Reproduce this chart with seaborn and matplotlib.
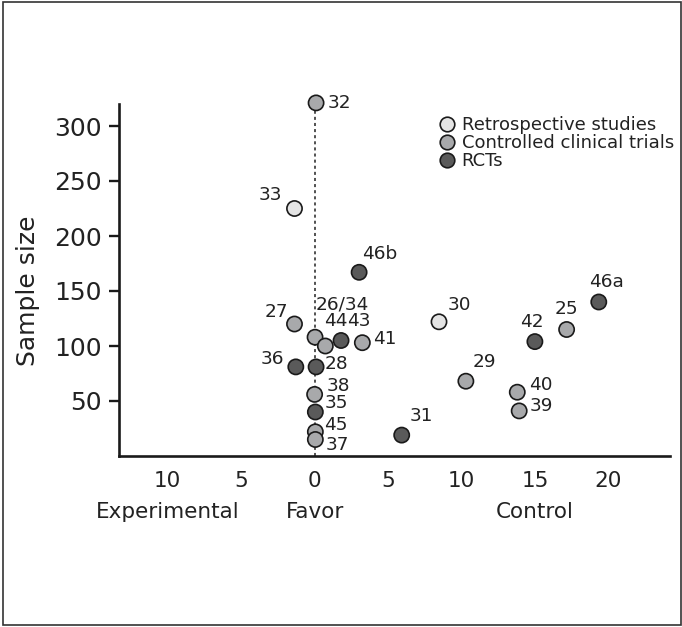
import matplotlib
matplotlib.use("Agg")
import matplotlib.pyplot as plt
from matplotlib.lines import Line2D
from matplotlib.patches import Rectangle
import seaborn as sns
import pandas as pd

# ---- data ----
studies = ["32", "33", "46b", "27", "26/34", "44", "43", "41", "36", "28", "38",
           "35", "45", "37", "31", "30", "46a", "25", "42", "29", "40", "39"]
effect = [0.1, -1.37, 3.03, -1.37, 0.03, 0.73, 1.8, 3.25, -1.28, 0.1, 0.0,
          0.05, 0.05, 0.05, 5.93, 8.47, 19.35, 17.16, 15.0, 10.3, 13.8, 13.93]
sample_size = [321, 225, 167, 120, 108, 100, 105, 103, 81, 81, 56,
               40, 22, 15, 19, 122, 140, 115, 104, 68, 58, 41]
design = ["Controlled clinical trials", "Retrospective studies", "RCTs",
          "Controlled clinical trials", "Controlled clinical trials",
          "Controlled clinical trials", "RCTs", "Controlled clinical trials",
          "RCTs", "RCTs", "Controlled clinical trials", "RCTs",
          "Controlled clinical trials", "Controlled clinical trials", "RCTs",
          "Retrospective studies", "RCTs", "Controlled clinical trials", "RCTs",
          "Controlled clinical trials", "Controlled clinical trials",
          "Controlled clinical trials"]
design_order = ["Retrospective studies", "Controlled clinical trials", "RCTs"]
x_ticks = [-10, -5, 0, 5, 10, 15, 20]
x_tick_labels = ["10", "5", "0", "5", "10", "15", "20"]
y_ticks = [50, 100, 150, 200, 250, 300]
side_labels = ["Experimental", "Favor", "Control"]
side_label_x = [-10, 0, 15]

df = pd.DataFrame({"study": studies, "effect": effect,
                   "n": sample_size, "design": design})

# ---- styling / layout ----
palette = {"Retrospective studies": "#e4e4e4",
           "Controlled clinical trials": "#a8a9ab",
           "RCTs": "#5a5a5a"}
# label offsets in pixels (dx, dy, ha)
label_offsets = {
    "32": (12, 0, "left"), "33": (-12, 14, "right"), "46b": (3, 18, "left"),
    "27": (-6, 12, "right"), "26/34": (1, 33, "left"), "44": (-1, 25, "left"),
    "43": (6, 20, "left"), "41": (11, 4, "left"), "36": (-12, 8, "right"),
    "28": (9, 3, "left"), "38": (12, 8, "left"), "35": (9, 9, "left"),
    "45": (9, 7, "left"), "37": (10, -5, "left"), "31": (8, 19, "left"),
    "30": (9, 17, "left"), "46a": (7.5, 20, "center"), "25": (0, 20, "center"),
    "42": (-3.5, 20, "center"), "29": (7, 19, "left"), "40": (12, 7, "left"),
    "39": (10, 5, "left"),
}

sns.set_style("white")
plt.rcParams["font.family"] = ["DejaVu Sans"]
txt = "#222222"

W, H = 682, 627
fig = plt.figure(figsize=(W / 100, H / 100), dpi=100)
ax = fig.add_axes([119.3 / W, (H - 456) / H, (670 - 119.3) / W, (456 - 104) / H])

# dotted reference line at 0
ax.vlines(0, 0, df.loc[df.study == "32", "n"].iloc[0], colors="#222222",
          linestyles=(0, (2, 2)), linewidth=1.1, zorder=1)

sns.scatterplot(data=df, x="effect", y="n", hue="design", hue_order=design_order,
                palette=palette, s=120, edgecolor="#1a1a1a", linewidth=1.2,
                legend=False, ax=ax, zorder=3, clip_on=False)

for s, xv, yv in zip(studies, effect, sample_size):
    dx, dy, ha = label_offsets[s]
    ax.annotate(s, (xv, yv), xytext=(dx, dy), textcoords="offset pixels",
                ha=ha, va="center", fontsize=13.3, color=txt, zorder=4,
                annotation_clip=False)

ax.set_xlim(-13.3, 24.2)
ax.set_ylim(0, 320)
ax.set_xticks(x_ticks)
ax.set_xticklabels(x_tick_labels)
ax.set_yticks(y_ticks)
ax.tick_params(axis="x", length=0, pad=11, labelsize=15.5, labelcolor=txt)
ax.tick_params(axis="y", length=7, width=1.7, pad=5.5, labelsize=18,
               labelcolor=txt, color="#1a1a1a", left=True)
for side in ["top", "right"]:
    ax.spines[side].set_visible(False)
for side in ["left", "bottom"]:
    ax.spines[side].set_linewidth(1.9)
    ax.spines[side].set_color("#1a1a1a")

ax.set_xlabel("")
ax.set_ylabel("Sample size", fontsize=18, color=txt)
ax.yaxis.label.set_verticalalignment("center")
ax.yaxis.set_label_coords(-0.166, 0.469)

for lab, xv in zip(side_labels, side_label_x):
    ax.text(xv, -0.159, lab, transform=ax.get_xaxis_transform(),
            ha="center", va="center", fontsize=15.5, color=txt)

handles = [Line2D([], [], linestyle="none", marker="o", markersize=10.5,
                  markerfacecolor=palette[d], markeredgecolor="#1a1a1a",
                  markeredgewidth=1.2, label=d) for d in design_order]
leg = ax.legend(handles=handles, loc="upper left",
                bbox_to_anchor=(440 / W, (H - 116) / H),
                bbox_transform=fig.transFigure, frameon=False,
                fontsize=13, handlelength=0.8, handletextpad=0.4,
                labelspacing=0.0, borderpad=0, borderaxespad=0)
for t in leg.get_texts():
    t.set_color(txt)

fig.patches.append(Rectangle((3 / W, 2 / H), (681 - 3) / W, (625 - 2) / H,
                             transform=fig.transFigure, fill=False,
                             edgecolor="#333333", linewidth=1.2))

fig.savefig("out.png", dpi=100)
